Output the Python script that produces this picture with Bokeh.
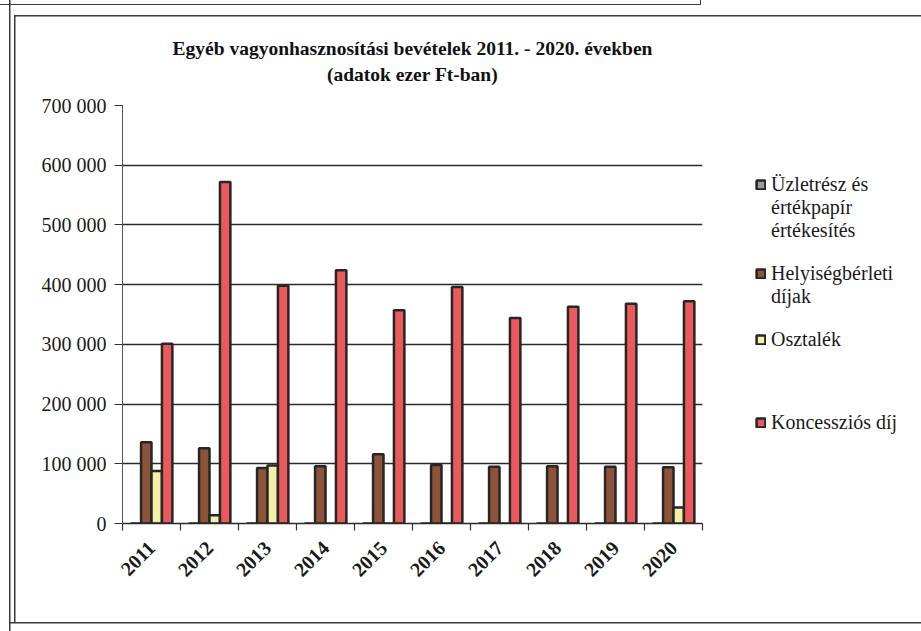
import math
from bokeh.plotting import figure
from bokeh.models import (ColumnDataSource, FixedTicker, Legend, LegendItem, Title)
from bokeh.transform import dodge
from bokeh.embed import file_html
from bokeh.resources import INLINE

# ---- data (thousand Ft) ----
years = [2011, 2012, 2013, 2014, 2015, 2016, 2017, 2018, 2019, 2020]
year_labels = ["2011", "2012", "2013", "2014", "2015", "2016", "2017", "2018", "2019", "2020"]
uzletresz = [0, 0, 0, 0, 0, 0, 0, 0, 0, 0]
helyiseg = [136000, 126000, 93000, 96000, 116000, 98000, 95000, 96000, 95000, 94000]
osztalek = [88000, 14000, 97000, 0, 0, 0, 0, 0, 0, 27000]
koncesszio = [301000, 572000, 398000, 424000, 357000, 396000, 344000, 363000, 368000, 372000]
y_ticks = [0, 100000, 200000, 300000, 400000, 500000, 600000, 700000]
y_tick_labels = ["0", "100 000", "200 000", "300 000", "400 000", "500 000", "600 000", "700 000"]
series_names = ["Üzletrész és\nértékpapír\nértékesítés", "Helyiségbérleti\ndíjak", "Osztalék", "Koncessziós díj"]
title_lines = ["Egyéb vagyonhasznosítási bevételek 2011. - 2020. években", "(adatok ezer Ft-ban)"]

src = ColumnDataSource(dict(year=years, u=uzletresz, h=helyiseg, o=osztalek, k=koncesszio))

SERIF = "Liberation Serif"
p = figure(frame_width=580, frame_height=418, output_backend="svg", toolbar_location=None,
           x_range=(2010.5, 2020.5), y_range=(0, 700000),
           min_border_left=122, min_border_right=219, min_border_top=105, min_border_bottom=108)
p.title = None
p.outline_line_color = None
p.background_fill_color = "white"
p.border_fill_color = None

# scanned page frame lines around the chart (CSS only, no layout effect)
_lines = [(9, 0, 1.5, 631), (14, 15, 1.5, 608), (14, 15, 907, 1.5),
          (0, 4, 700, 1.2), (700, 0, 1.2, 5), (9, 622, 912, 1.5)]
p.styles = {"background": ", ".join(
    f"linear-gradient(#3a3a3a,#3a3a3a) {x}px {y}px / {w}px {h}px no-repeat" for x, y, w, h in _lines
) + ", white"}

bw = 0.18
edge = "#262626"
r_u = p.vbar(x=dodge("year", -0.27), top="u", width=bw, source=src,
             fill_color="#9c9c9c", line_color=edge, line_width=2.5)
r_h = p.vbar(x=dodge("year", -0.09), top="h", width=bw, source=src,
             fill_color="#8e5439", line_color=edge, line_width=2.5)
r_o = p.vbar(x=dodge("year", 0.09), top="o", width=bw, source=src,
             fill_color="#f3f1a8", line_color=edge, line_width=2.5)
r_k = p.vbar(x=dodge("year", 0.27), top="k", width=bw, source=src,
             fill_color="#ea5a5c", line_color=edge, line_width=2.5)
# invisible renderer used only for legend continuation lines
blank = p.vbar(x=[], top=[], width=bw, fill_alpha=0, line_alpha=0)

# axes
p.xgrid.grid_line_color = None
p.ygrid.ticker = FixedTicker(ticks=y_ticks)
p.ygrid.grid_line_color = "#2a2a2a"
p.ygrid.grid_line_width = 1.4

yax = p.yaxis[0]
yax.ticker = FixedTicker(ticks=y_ticks)
yax.major_label_overrides = {t: s for t, s in zip(y_ticks, y_tick_labels)}
yax.major_label_text_font = SERIF
yax.major_label_text_font_size = "20px"
yax.major_label_text_color = "#1a1a1a"
yax.major_tick_out = 8
yax.major_tick_in = 0
yax.minor_tick_line_color = None
yax.axis_line_color = "#555555"
yax.major_tick_line_color = "#333333"
yax.major_label_standoff = 8

xax = p.xaxis[0]
xax.ticker = FixedTicker(ticks=years, minor_ticks=[y - 0.5 for y in years] + [years[-1] + 0.5])
xax.major_label_overrides = {y: s for y, s in zip(years, year_labels)}
xax.major_label_orientation = math.pi / 4
xax.major_label_text_font = SERIF
xax.major_label_text_font_style = "bold"
xax.major_label_text_font_size = "20px"
xax.major_label_text_color = "#1a1a1a"
xax.major_tick_line_color = None
xax.minor_tick_out = 7
xax.minor_tick_in = 0
xax.minor_tick_line_color = "#333333"
xax.minor_tick_line_width = 1.2
xax.axis_line_color = "#2a2a2a"
xax.axis_line_width = 1.4
xax.major_label_standoff = 14

# title: spacer nearest the frame, then line 2, then line 1 (each centered)
p.add_layout(Title(text=" ", text_font_size="1px", standoff=16), "above")
p.add_layout(Title(text=title_lines[1], align="center", text_font=SERIF, text_font_style="bold",
                   text_font_size="19.5px", text_color="#111111", standoff=4), "above")
p.add_layout(Title(text=title_lines[0], align="center", text_font=SERIF, text_font_style="bold",
                   text_font_size="19.5px", text_color="#111111", standoff=2), "above")

# legend: one line per item row, continuation lines use an invisible glyph
rows = []
for r, name, gap in zip([r_u, r_h, r_o, r_k], series_names, [1, 1, 3, 0]):
    lines = name.split("\n")
    rows.append(LegendItem(label=lines[0], renderers=[r]))
    for ln in lines[1:]:
        rows.append(LegendItem(label=ln, renderers=[blank]))
    for _ in range(gap):
        rows.append(LegendItem(label=" ", renderers=[blank]))

legend = Legend(items=rows, location=(53, 89), padding=0, margin=0, spacing=-4,
                border_line_color=None, background_fill_alpha=0,
                glyph_width=11, glyph_height=11, label_standoff=5, label_height=20,
                label_text_font=SERIF, label_text_font_size="20px", label_text_color="#1a1a1a")
p.add_layout(legend, "right")

open("out.html", "w").write(file_html(p, INLINE))
